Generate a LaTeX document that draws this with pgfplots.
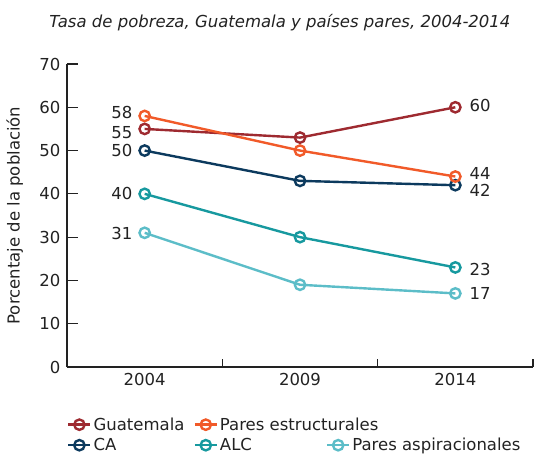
\documentclass[border=0pt]{standalone}
\usepackage{fontspec}
\setmainfont{DejaVu Sans}
\usepackage{pgfplots}
\pgfplotsset{compat=1.18}
\definecolor{cguat}{HTML}{9E2A30}
\definecolor{cpe}{HTML}{F15A29}
\definecolor{cca}{HTML}{0C3A5E}
\definecolor{calc}{HTML}{17999F}
\definecolor{cpa}{HTML}{5CBDC8}
\definecolor{ctxt}{HTML}{222222}
\pgfplotstableread{
x y
0 55
1 53
2 60
}\guat
\pgfplotstableread{
x y
0 58
1 50
2 44
}\pe
\pgfplotstableread{
x y
0 50
1 43
2 42
}\ca
\pgfplotstableread{
x y
0 40
1 30
2 23
}\alc
\pgfplotstableread{
x y
0 31
1 19
2 17
}\pa
\pgfplotstableread{
x y lab
0 58.7 58
0 54.1 55
0 50.0 50
0 40.0 40
0 30.9 31
}\leftlab
\pgfplotstableread{
x y lab
2 60.5 60
2 44.6 44
2 40.8 42
2 22.6 23
2 17.0 17
}\rightlab
\newcommand{\fs}{\fontsize{16.5bp}{19bp}\selectfont}
\begin{document}
\begin{tikzpicture}
\begin{axis}[
  at={(0,0)}, anchor=south west,
  scale only axis, width=466bp, height=303bp,
  xmin=-0.5, xmax=2.5, ymin=0, ymax=70,
  axis lines*=left,
  axis line style={line width=1.2bp, color=ctxt},
  xtick={0,1,2}, xticklabels={2004,2009,2014},
  major x tick style={draw=none},
  minor xtick={0.5,1.5,2.5},
  ytick={0,10,...,70},
  tick align=inside,
  major tick length=11bp, minor tick length=8bp,
  tick style={line width=1.1bp, color=ctxt},
  /pgf/number format/assume math mode=true,
  tick label style={font=\fs, text=ctxt},
  yticklabel style={xshift=-3bp},
  xticklabel style={yshift=-3bp},
  ylabel={Porcentaje de la población},
  every axis y label/.style={at={(axis description cs:-0.112,0.5)}, rotate=90, anchor=center, font=\fs, text=ctxt},
  title={\itshape Tasa de pobreza, Guatemala y países pares, 2004-2014},
  every axis title/.style={at={(axis description cs:0.457,1.135)}, anchor=center, font=\fs, text=ctxt},
  clip=false,
  legend columns=3,
  legend cell align=left,
  legend style={draw=none, fill=none, at={(axis description cs:0.0,-0.160)}, anchor=north west, font=\fs, text=ctxt, inner sep=0pt, row sep=2.5bp, /tikz/every even column/.append style={column sep=0pt}},
  legend image code/.code={\draw[mark repeat=2,mark phase=2] plot coordinates {(0bp,0bp)(11bp,0bp)(22bp,0bp)};},
  every axis plot/.append style={line width=2.4bp, mark=o, mark size=5.2bp, mark options={fill=white, solid}},
]
\addlegendimage{cguat}\addlegendentry{\makebox[98bp][l]{Guatemala}}
\addlegendimage{cpe}\addlegendentry{\makebox[104bp][l]{Pares estructurales}}
\addlegendimage{empty legend}\addlegendentry{}
\addlegendimage{cca}\addlegendentry{\makebox[98bp][l]{CA}}
\addlegendimage{calc}\addlegendentry{\makebox[104bp][l]{ALC}}
\addlegendimage{cpa}\addlegendentry{Pares aspiracionales}
\addplot[cpa, forget plot] table[x=x,y=y]{\pa};
\addplot[calc, forget plot] table[x=x,y=y]{\alc};
\addplot[cca, forget plot] table[x=x,y=y]{\ca};
\addplot[cguat, forget plot] table[x=x,y=y]{\guat};
\addplot[cpe, forget plot] table[x=x,y=y]{\pe};
\addplot[draw=none, mark=none, forget plot, nodes near coords, point meta=explicit symbolic,
  every node near coord/.style={anchor=east, xshift=-11bp, inner sep=0pt, font=\fs, text=ctxt}]
  table[x=x,y=y,meta=lab]{\leftlab};
\addplot[draw=none, mark=none, forget plot, nodes near coords, point meta=explicit symbolic,
  every node near coord/.style={anchor=west, xshift=13bp, inner sep=0pt, font=\fs, text=ctxt}]
  table[x=x,y=y,meta=lab]{\rightlab};
\end{axis}
\path[use as bounding box] (-67bp,-92bp) rectangle (467bp,367bp);
\end{tikzpicture}
\end{document}
